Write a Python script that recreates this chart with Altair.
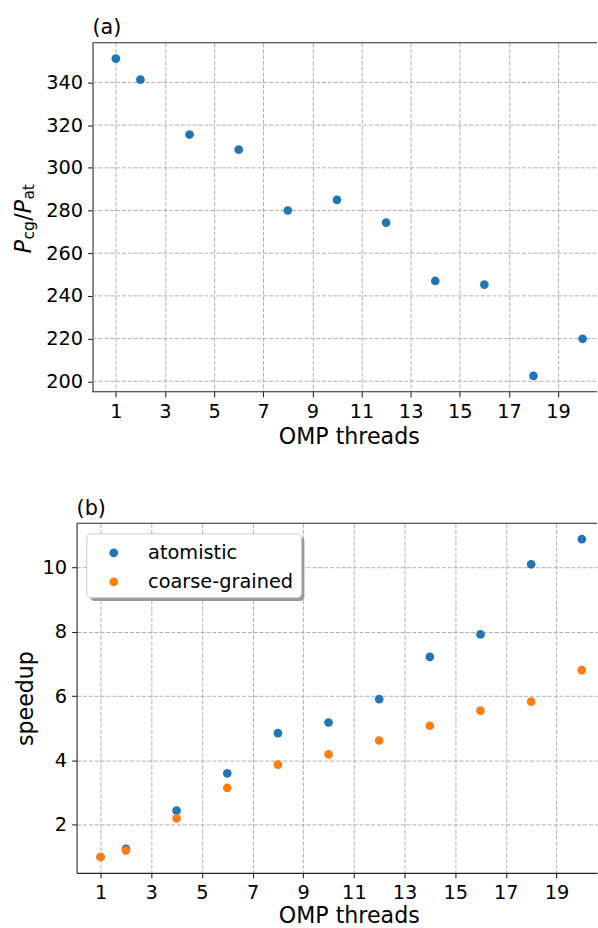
import altair as alt
import pandas as pd

# ---- data ----
threads = [1, 2, 4, 6, 8, 10, 12, 14, 16, 18, 20]
ratio_cg_at = [351.2, 341.3, 315.6, 308.5, 280.0, 285.0, 274.3, 247.0, 245.3, 202.5, 219.9]
speedup_atomistic = [1.0, 1.25, 2.44, 3.6, 4.85, 5.18, 5.91, 7.22, 7.92, 10.1, 10.88]
speedup_coarse = [1.0, 1.2, 2.2, 3.15, 3.87, 4.19, 4.62, 5.08, 5.55, 5.83, 6.81]
series_names = ["atomistic", "coarse-grained"]
series_colors = ["#1f77b4", "#ff7f0e"]
x_ticks = [1, 3, 5, 7, 9, 11, 13, 15, 17, 19]
y_ticks_a = [200, 220, 240, 260, 280, 300, 320, 340]
y_ticks_b = [2, 4, 6, 8, 10]

FONT = "DejaVu Sans"
SPINE = "#262626"
GRID = "#b0b0b0"
DASH = [4.1, 1.8]
TICK_FS = 19.4
LABEL_FS = 22.2
PANEL_FS = 20.8
SUB_FS = 15.5
PT_SIZE = 76

top_df = pd.DataFrame({"threads": threads, "ratio": ratio_cg_at})
grid_a_df = pd.DataFrame({"ratio": y_ticks_a})
bot_df = pd.DataFrame({
    "threads": threads + threads,
    "speedup": speedup_atomistic + speedup_coarse,
    "series": [series_names[0]] * len(threads) + [series_names[1]] * len(threads),
})
one = alt.Data(values=[{}])

# ---------------- panel (a) ----------------
W, HA = 522, 350
SH = 16  # panel (a) frame starts this far right of panel (b)'s frame
xa = alt.X("threads:Q", scale=alt.Scale(domain=[-0.599, 20.585], nice=False, zero=False),
           axis=alt.Axis(values=x_ticks, format="d", title="OMP threads", domain=False,
                         titleX=273, titleY=51.5, titleBaseline="alphabetic",
                         titleAlign="center"))
ya_scale = alt.Scale(domain=[195.1, 358.6], nice=False, zero=False)
ya = alt.Y("ratio:Q", scale=ya_scale,
           axis=alt.Axis(values=y_ticks_a, format="d", title=None, grid=False, offset=-SH))

grid_a = alt.Chart(grid_a_df).mark_rule(color=GRID, strokeDash=DASH, strokeWidth=1).encode(
    y=alt.Y("ratio:Q", scale=ya_scale), x=alt.value(SH), x2=alt.value(W))
pts_a = alt.Chart(top_df).mark_circle(size=PT_SIZE, opacity=1, color=series_colors[0]).encode(
    x=xa, y=ya)
top_spine_a = alt.Chart(one).mark_rule(color=SPINE, strokeWidth=1.1).encode(
    x=alt.value(SH), x2=alt.value(W), y=alt.value(0))
bot_spine_a = alt.Chart(one).mark_rule(color=SPINE, strokeWidth=1.1).encode(
    x=alt.value(SH), x2=alt.value(W), y=alt.value(HA))
lab_a = alt.Chart(one).mark_text(text="(a)", font=FONT, fontSize=PANEL_FS, align="left",
                                 baseline="alphabetic", color="black").encode(
    x=alt.value(SH), y=alt.value(-8.7))


def piece(txt, x, y, size, italic):
    kw = dict(text=txt, font=FONT, fontSize=size, angle=270, align="left",
              baseline="alphabetic", color="black")
    if italic:
        kw["fontStyle"] = "italic"
    return alt.Chart(one).mark_text(**kw).encode(x=alt.value(x), y=alt.value(y))


bx = -46
ytitle_a = [
    piece("P", bx, 211, LABEL_FS, True),
    piece("cg", bx + 3.5, 197.2, SUB_FS, False),
    piece("/", bx, 178.6, LABEL_FS, False),
    piece("P", bx, 171.1, LABEL_FS, True),
    piece("at", bx + 3.5, 157.3, SUB_FS, False),
]

panel_a = alt.layer(grid_a, pts_a, top_spine_a, bot_spine_a, lab_a, *ytitle_a).properties(
    width=W, height=HA)

# ---------------- panel (b) ----------------
HB = 350.6
xb = alt.X("threads:Q", scale=alt.Scale(domain=[0.05, 20.6], nice=False, zero=False),
           axis=alt.Axis(values=x_ticks, format="d", title="OMP threads",
                         titleX=273, titleY=50, titleBaseline="alphabetic",
                         titleAlign="center"))
yb = alt.Y("speedup:Q", scale=alt.Scale(domain=[0.506, 11.374], nice=False, zero=False),
           axis=alt.Axis(values=y_ticks_b, format="d", title="speedup",
                         titleX=-43.7, titleY=HB / 2, titleAngle=270,
                         titleBaseline="alphabetic", titleAlign="center"))

shadow_b = alt.Chart(one).mark_rect(fill="#9a9a9a", cornerRadius=4).encode(
    x=alt.value(13.7), x2=alt.value(228.5), y=alt.value(13.6), y2=alt.value(77.8))
frame_b = alt.Chart(one).mark_rect(fill="white", stroke="#cccccc", strokeWidth=1,
                                   cornerRadius=4).encode(
    x=alt.value(10.2), x2=alt.value(225.5), y=alt.value(10.6), y2=alt.value(74.6))
pts_b = alt.Chart(bot_df).mark_circle(size=PT_SIZE, opacity=1).encode(
    x=xb, y=yb,
    color=alt.Color("series:N",
                    scale=alt.Scale(domain=series_names, range=series_colors),
                    legend=alt.Legend(title=None, orient="none", legendX=27.6, legendY=20,
                                      padding=0, symbolType="circle", symbolSize=PT_SIZE,
                                      symbolStrokeWidth=0, symbolOpacity=1,
                                      labelFont=FONT, labelFontSize=TICK_FS,
                                      labelColor="black",
                                      labelOffset=24.7, rowPadding=8.1)),
    order=alt.Order("series:N"),
)
spine_b = alt.Chart(one).mark_rule(color=SPINE, strokeWidth=1.1).encode(
    x=alt.value(0), x2=alt.value(W), y=alt.value(0))
lab_b = alt.Chart(one).mark_text(text="(b)", font=FONT, fontSize=PANEL_FS, align="left",
                                 baseline="alphabetic", color="black").encode(
    x=alt.value(0), y=alt.value(-8.7))

panel_b = alt.layer(shadow_b, frame_b, pts_b, spine_b, lab_b).properties(width=W, height=HB)

chart = alt.vconcat(panel_a, panel_b, spacing=50).resolve_scale(
    color="independent").resolve_legend(color="independent").properties(
    padding={"left": 12.8, "top": 15.5, "right": 0, "bottom": 0}
).configure_view(stroke=None).configure_axis(
    labelFont=FONT, labelFontSize=TICK_FS, labelColor="black",
    titleFont=FONT, titleFontSize=LABEL_FS, titleFontWeight="normal", titleColor="black",
    tickColor=SPINE, tickSize=5, tickWidth=1.1,
    domainColor=SPINE, domainWidth=1.1,
    gridColor=GRID, gridDash=DASH, gridWidth=1,
).configure_axisX(labelPadding=5.5).configure_axisY(labelPadding=5)

chart.save("out.html", embed_options={"renderer": "svg", "actions": False})
